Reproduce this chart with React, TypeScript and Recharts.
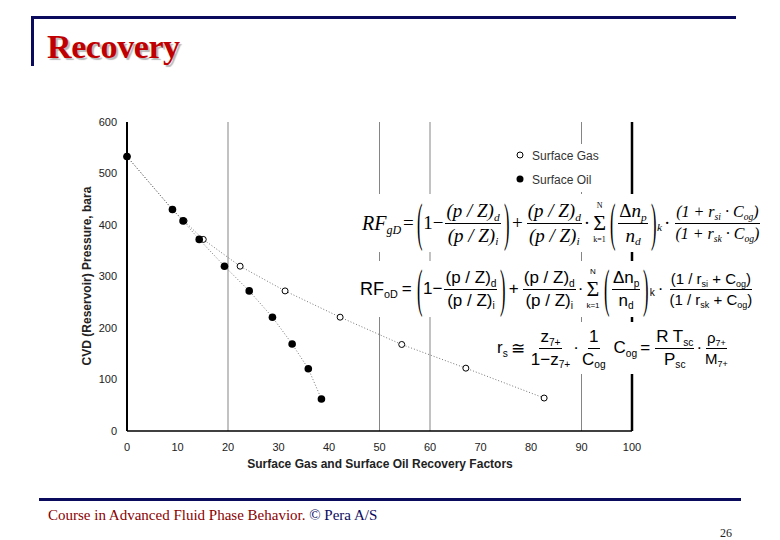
import React from 'react';
import {
    ScatterChart,
    Scatter,
    XAxis,
    YAxis,
    ReferenceLine,
} from 'recharts';

// CVD pressure steps (bara) and recovery factors (%)
const oilPressure = [533, 430, 408, 372, 320, 272, 221, 169, 121, 62];
const oilRecovery = [0, 9.0, 11.1, 14.3, 19.3, 24.2, 28.8, 32.7, 35.9, 38.5];
const gasPressure = [533, 430, 408, 372, 320, 272, 221, 168, 122, 64];
const gasRecovery = [0, 9.0, 11.3, 15.1, 22.4, 31.3, 42.2, 54.4, 67.1, 82.6];

const xTicks = [0, 10, 20, 30, 40, 50, 60, 70, 80, 90, 100];
const yTicks = [0, 100, 200, 300, 400, 500, 600];
const gridX = [20, 50, 60, 90];

const oilData = oilRecovery.map((x, i) => ({ x, y: oilPressure[i] }));
const gasData = gasRecovery.map((x, i) => ({ x, y: gasPressure[i] }));

const NAVY = '#0b0b5e';
const SANS = 'Arial, "Liberation Sans", Helvetica, sans-serif';
const SERIF = '"Times New Roman", "Liberation Serif", serif';

const dotted = { stroke: '#777', strokeWidth: 1, strokeDasharray: '1 2' };

const OpenDot = (p: any) => (
    <circle cx={p.cx} cy={p.cy} r={3} fill="#fff" stroke="#000" strokeWidth={1} />
);
const FilledDot = (p: any) => <circle cx={p.cx} cy={p.cy} r={3.8} fill="#000" />;

// --- small formula helpers ---
const Sub = ({ children }: { children: React.ReactNode }) => (
    <span style={{ fontSize: '0.6em', position: 'relative', top: '0.35em' }}>{children}</span>
);

const Frac = ({ n, d, size }: { n: React.ReactNode; d: React.ReactNode; size?: number }) => (
    <span
        style={{
            display: 'inline-flex',
            flexDirection: 'column',
            alignItems: 'center',
            margin: '0 2px',
            fontSize: size,
        }}>
        <span style={{ borderBottom: '1px solid #000', padding: '0 1px 1px', lineHeight: 1.15 }}>
            {n}
        </span>
        <span style={{ padding: '1px 1px 0', lineHeight: 1.15 }}>{d}</span>
    </span>
);

const Paren = ({ c }: { c: string }) => (
    <span
        style={{
            display: 'inline-block',
            fontSize: 22,
            transform: 'scale(0.75, 2.4)',
            lineHeight: 1,
            fontStyle: 'normal',
            fontFamily: SERIF,
        }}>
        {c}
    </span>
);

const Sum = () => (
    <span
        style={{
            display: 'inline-flex',
            flexDirection: 'column',
            alignItems: 'center',
            margin: '0 3px',
            fontStyle: 'normal',
        }}>
        <span style={{ fontSize: 8, lineHeight: 1 }}>N</span>
        <span style={{ fontSize: 22, lineHeight: 1.15, fontFamily: SERIF }}>Σ</span>
        <span style={{ fontSize: 8, lineHeight: 1 }}>k=1</span>
    </span>
);

const rowStyle: React.CSSProperties = {
    position: 'absolute',
    display: 'flex',
    alignItems: 'center',
    whiteSpace: 'nowrap',
    background: '#fff',
    color: '#000',
};

const FormulaGas = () => (
    <div style={{ ...rowStyle, left: 362, top: 194, height: 58, fontFamily: SERIF, fontStyle: 'italic', fontSize: 19 }}>
        <span style={{ fontSize: 20 }}>
            RF<Sub>gD</Sub>
        </span>
        <span style={{ margin: '0 2px', fontStyle: 'normal' }}>=</span>
        <Paren c="(" />
        <span style={{ fontStyle: 'normal' }}>1−</span>
        <Frac n={<>(p / Z)<Sub>d</Sub></>} d={<>(p / Z)<Sub>i</Sub></>} />
        <Paren c=")" />
        <span style={{ fontStyle: 'normal', margin: '0 2px' }}>+</span>
        <Frac n={<>(p / Z)<Sub>d</Sub></>} d={<>(p / Z)<Sub>i</Sub></>} />
        <span style={{ fontStyle: 'normal' }}>·</span>
        <Sum />
        <Paren c="(" />
        <Frac n={<><span style={{ fontStyle: 'normal' }}>Δ</span>n<Sub>p</Sub></>} d={<>n<Sub>d</Sub></>} />
        <Paren c=")" />
        <Sub>k</Sub>
        <span style={{ fontStyle: 'normal', margin: '0 2px' }}>·</span>
        <Frac
            size={16}
            n={<>(1 + r<Sub>si</Sub> · C<Sub>og</Sub>)</>}
            d={<>(1 + r<Sub>sk</Sub> · C<Sub>og</Sub>)</>}
        />
    </div>
);

const FormulaOil = () => (
    <div style={{ ...rowStyle, left: 360, top: 261, height: 56, fontFamily: SANS, fontSize: 17 }}>
        <span style={{ fontSize: 18 }}>
            RF<Sub>oD</Sub>
        </span>
        <span style={{ margin: '0 4px' }}>=</span>
        <Paren c="(" />
        <span>1−</span>
        <Frac n={<>(p / Z)<Sub>d</Sub></>} d={<>(p / Z)<Sub>i</Sub></>} />
        <Paren c=")" />
        <span style={{ margin: '0 2px' }}>+</span>
        <Frac n={<>(p / Z)<Sub>d</Sub></>} d={<>(p / Z)<Sub>i</Sub></>} />
        <span>·</span>
        <Sum />
        <Paren c="(" />
        <Frac n={<>Δn<Sub>p</Sub></>} d={<>n<Sub>d</Sub></>} />
        <Paren c=")" />
        <Sub>k</Sub>
        <span style={{ margin: '0 3px' }}>·</span>
        <Frac
            size={15}
            n={<>(1 / r<Sub>si</Sub> + C<Sub>og</Sub>)</>}
            d={<>(1 / r<Sub>sk</Sub> + C<Sub>og</Sub>)</>}
        />
    </div>
);

const FormulaRs = () => (
    <div style={{ ...rowStyle, left: 497, top: 322, height: 52, fontFamily: SANS, fontSize: 17 }}>
        <span>
            r<Sub>s</Sub>
        </span>
        <span style={{ margin: '0 3px' }}>≅</span>
        <Frac n={<>z<Sub>7+</Sub></>} d={<>1−z<Sub>7+</Sub></>} />
        <span>·</span>
        <Frac n="1" d={<>C<Sub>og</Sub></>} />
        <span style={{ marginLeft: 5 }}>
            C<Sub>og</Sub>
        </span>
        <span style={{ margin: '0 3px' }}>=</span>
        <Frac n={<>R T<Sub>sc</Sub></>} d={<>P<Sub>sc</Sub></>} />
        <span>·</span>
        <Frac size={15} n={<>ρ<Sub>7+</Sub></>} d={<>M<Sub>7+</Sub></>} />
    </div>
);

const App: React.FC = () => {
    return (
        <div
            style={{
                position: 'absolute',
                left: 0,
                top: 0,
                width: 780,
                height: 540,
                background: '#fff',
                overflow: 'hidden',
            }}>
            {/* slide frame */}
            <div style={{ position: 'absolute', left: 31, top: 16, width: 705, height: 3, background: NAVY }} />
            <div style={{ position: 'absolute', left: 31, top: 16, width: 3, height: 50, background: NAVY }} />
            <div
                style={{
                    position: 'absolute',
                    left: 47,
                    top: 28,
                    fontFamily: SERIF,
                    fontWeight: 'bold',
                    fontSize: 34,
                    color: '#c00000',
                    textShadow: '2px 2px 1px #b8b8b8',
                    letterSpacing: -0.4,
                }}>
                Recovery
            </div>

            <ScatterChart
                width={780}
                height={540}
                margin={{ top: 122, right: 148, bottom: 75, left: 87 }}
                style={{ position: 'absolute', left: 0, top: 0 }}>
                <XAxis
                    type="number"
                    dataKey="x"
                    domain={[0, 100]}
                    ticks={xTicks}
                    tickLine={false}
                    tickSize={0}
                    tickMargin={12}
                    height={34}
                    axisLine={{ stroke: '#000', strokeWidth: 1.5 }}
                    tick={{ fontFamily: SANS, fontSize: 11, fill: '#222' }}
                />
                <YAxis
                    type="number"
                    dataKey="y"
                    domain={[0, 600]}
                    ticks={yTicks}
                    tickLine={false}
                    tickSize={0}
                    tickMargin={10}
                    width={40}
                    axisLine={{ stroke: '#000', strokeWidth: 2 }}
                    tick={{ fontFamily: SANS, fontSize: 11, fill: '#222' }}
                />
                {gridX.map(v => (
                    <ReferenceLine key={v} x={v} stroke="#858585" strokeWidth={1} />
                ))}
                <ReferenceLine x={100} stroke="#000" strokeWidth={2.5} />
                <Scatter
                    data={gasData}
                    line={dotted}
                    lineType="joint"
                    shape={OpenDot}
                    isAnimationActive={false}
                />
                <Scatter
                    data={oilData}
                    line={dotted}
                    lineType="joint"
                    shape={FilledDot}
                    isAnimationActive={false}
                />
            </ScatterChart>

            {/* axis titles */}
            <div
                style={{
                    position: 'absolute',
                    left: 87,
                    top: 276,
                    transform: 'translate(-50%, -50%) rotate(-90deg)',
                    fontFamily: SANS,
                    fontWeight: 'bold',
                    fontSize: 12,
                    color: '#222',
                    whiteSpace: 'nowrap',
                }}>
                CVD (Reservoir) Pressure, bara
            </div>
            <div
                style={{
                    position: 'absolute',
                    left: 380,
                    top: 457,
                    transform: 'translateX(-50%)',
                    fontFamily: SANS,
                    fontWeight: 'bold',
                    fontSize: 12,
                    color: '#222',
                    whiteSpace: 'nowrap',
                }}>
                Surface Gas and Surface Oil Recovery Factors
            </div>

            {/* legend */}
            <div
                style={{
                    position: 'absolute',
                    left: 514,
                    top: 144,
                    background: '#fff',
                    fontFamily: SANS,
                    fontSize: 12,
                    color: '#333',
                    lineHeight: '24px',
                }}>
                <div>
                    <svg width={14} height={10} style={{ marginRight: 4 }}>
                        <circle cx={6} cy={5} r={3} fill="#fff" stroke="#000" />
                    </svg>
                    Surface Gas
                </div>
                <div>
                    <svg width={14} height={10} style={{ marginRight: 4 }}>
                        <circle cx={6} cy={5} r={3.5} fill="#000" />
                    </svg>
                    Surface Oil
                </div>
            </div>

            <FormulaGas />
            <FormulaOil />
            <FormulaRs />

            {/* footer */}
            <div style={{ position: 'absolute', left: 39, top: 498, width: 702, height: 3, background: NAVY }} />
            <div
                style={{
                    position: 'absolute',
                    left: 48,
                    top: 507,
                    fontFamily: SERIF,
                    fontSize: 15,
                    color: '#8b0000',
                    whiteSpace: 'nowrap',
                }}>
                Course in Advanced Fluid Phase Behavior. <span style={{ color: NAVY }}>© Pera A/S</span>
            </div>
            <div
                style={{
                    position: 'absolute',
                    left: 720,
                    top: 526,
                    fontFamily: SERIF,
                    fontSize: 12,
                    color: '#222',
                }}>
                26
            </div>
        </div>
    );
};

export default App;
